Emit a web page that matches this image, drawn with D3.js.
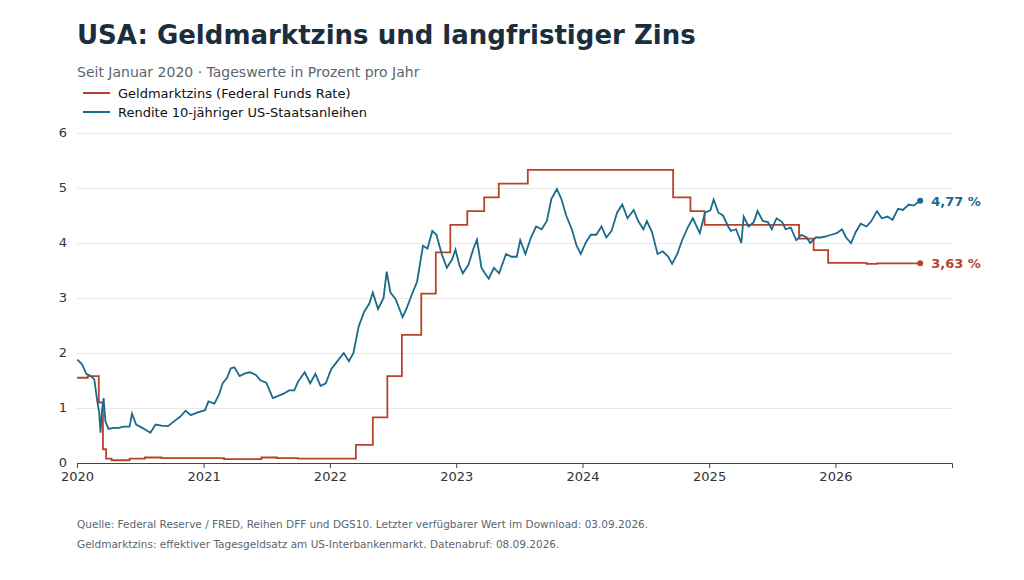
<!DOCTYPE html>
<html><head><meta charset="utf-8">
<script src="https://cdn.jsdelivr.net/npm/d3@7"></script>
<style>body{margin:0;background:#fff;font-family:"DejaVu Sans",sans-serif}</style>
</head><body><svg id="c" width="1024" height="580"></svg>
<script>
const seriesNames=["Geldmarktzins (Federal Funds Rate)","Rendite 10-jähriger US-Staatsanleihen"];
const yTicks=[0,1,2,3,4,5,6];
const xTickYears=[2020,2021,2022,2023,2024,2025,2026];
// Federal Funds Rate (step changes)
const ffr=[["2020-01-01",1.55],["2020-02-01",1.58],["2020-03-04",1.10],["2020-03-16",0.25],["2020-03-25",0.08],["2020-04-10",0.05],["2020-06-01",0.08],["2020-07-15",0.10],["2020-09-01",0.09],["2021-03-01",0.07],["2021-06-17",0.10],["2021-08-01",0.09],["2021-10-01",0.08],["2022-03-17",0.33],["2022-05-05",0.83],["2022-06-16",1.58],["2022-07-28",2.33],["2022-09-22",3.08],["2022-11-03",3.83],["2022-12-15",4.33],["2023-02-02",4.58],["2023-03-23",4.83],["2023-05-04",5.08],["2023-07-27",5.33],["2024-09-19",4.83],["2024-11-08",4.58],["2024-12-19",4.33],["2025-09-18",4.08],["2025-10-30",3.87],["2025-12-11",3.64],["2026-04-01",3.62],["2026-05-01",3.63],["2026-09-03",3.63]];
// 10-year Treasury yield
const dgs10=[["2020-01-02",1.88],["2020-01-15",1.80],["2020-01-28",1.62],["2020-02-10",1.58],["2020-02-20",1.52],["2020-02-28",1.15],["2020-03-05",0.92],["2020-03-09",0.55],["2020-03-13",0.95],["2020-03-18",1.18],["2020-03-23",0.76],["2020-04-01",0.62],["2020-04-15",0.64],["2020-05-01",0.64],["2020-05-15",0.66],["2020-06-01",0.66],["2020-06-08",0.90],["2020-06-20",0.70],["2020-07-10",0.63],["2020-07-31",0.55],["2020-08-15",0.70],["2020-09-01",0.68],["2020-09-20",0.67],["2020-10-10",0.77],["2020-10-25",0.84],["2020-11-10",0.95],["2020-11-25",0.87],["2020-12-15",0.92],["2021-01-05",0.96],["2021-01-15",1.12],["2021-02-01",1.08],["2021-02-15",1.25],["2021-02-25",1.45],["2021-03-10",1.55],["2021-03-20",1.72],["2021-03-31",1.74],["2021-04-15",1.58],["2021-05-01",1.63],["2021-05-15",1.65],["2021-06-01",1.60],["2021-06-15",1.50],["2021-07-01",1.46],["2021-07-20",1.18],["2021-08-05",1.22],["2021-08-20",1.26],["2021-09-05",1.32],["2021-09-20",1.32],["2021-10-01",1.48],["2021-10-20",1.65],["2021-11-05",1.45],["2021-11-20",1.62],["2021-12-05",1.40],["2021-12-20",1.45],["2022-01-05",1.71],["2022-01-20",1.83],["2022-02-10",2.00],["2022-02-25",1.85],["2022-03-10",2.00],["2022-03-25",2.48],["2022-04-10",2.75],["2022-04-25",2.90],["2022-05-05",3.10],["2022-05-20",2.80],["2022-06-05",3.00],["2022-06-14",3.48],["2022-06-25",3.10],["2022-07-10",2.98],["2022-07-30",2.65],["2022-08-10",2.80],["2022-08-25",3.05],["2022-09-10",3.30],["2022-09-27",3.95],["2022-10-10",3.90],["2022-10-24",4.22],["2022-11-05",4.15],["2022-11-20",3.80],["2022-12-05",3.55],["2022-12-20",3.70],["2022-12-30",3.88],["2023-01-10",3.60],["2023-01-20",3.45],["2023-02-05",3.60],["2023-02-20",3.90],["2023-03-02",4.06],["2023-03-15",3.55],["2023-03-25",3.45],["2023-04-05",3.35],["2023-04-20",3.55],["2023-05-05",3.45],["2023-05-25",3.80],["2023-06-10",3.75],["2023-06-25",3.75],["2023-07-05",4.05],["2023-07-20",3.80],["2023-08-05",4.10],["2023-08-20",4.30],["2023-09-05",4.25],["2023-09-20",4.40],["2023-10-03",4.80],["2023-10-19",4.98],["2023-11-01",4.80],["2023-11-15",4.50],["2023-12-01",4.25],["2023-12-15",3.95],["2023-12-27",3.80],["2024-01-10",4.00],["2024-01-25",4.15],["2024-02-10",4.15],["2024-02-25",4.30],["2024-03-10",4.10],["2024-03-25",4.22],["2024-04-10",4.55],["2024-04-25",4.70],["2024-05-10",4.45],["2024-05-28",4.60],["2024-06-10",4.40],["2024-06-25",4.25],["2024-07-05",4.40],["2024-07-20",4.20],["2024-08-05",3.80],["2024-08-20",3.85],["2024-09-05",3.75],["2024-09-16",3.62],["2024-10-01",3.80],["2024-10-15",4.05],["2024-10-31",4.28],["2024-11-15",4.45],["2024-12-05",4.18],["2024-12-20",4.55],["2025-01-05",4.60],["2025-01-14",4.79],["2025-01-28",4.55],["2025-02-10",4.50],["2025-02-25",4.30],["2025-03-05",4.22],["2025-03-20",4.25],["2025-04-04",4.00],["2025-04-11",4.48],["2025-04-25",4.30],["2025-05-10",4.38],["2025-05-21",4.58],["2025-06-05",4.40],["2025-06-20",4.38],["2025-07-01",4.25],["2025-07-15",4.45],["2025-07-31",4.38],["2025-08-10",4.25],["2025-08-25",4.28],["2025-09-10",4.05],["2025-09-25",4.15],["2025-10-10",4.10],["2025-10-20",4.00],["2025-11-05",4.10],["2025-11-20",4.10],["2025-12-05",4.12],["2025-12-20",4.15],["2026-01-05",4.18],["2026-01-20",4.25],["2026-02-01",4.10],["2026-02-15",4.00],["2026-03-01",4.20],["2026-03-15",4.35],["2026-04-01",4.30],["2026-04-15",4.40],["2026-05-01",4.58],["2026-05-15",4.45],["2026-06-01",4.48],["2026-06-15",4.42],["2026-07-01",4.62],["2026-07-15",4.60],["2026-08-01",4.70],["2026-08-15",4.68],["2026-09-03",4.77]];
const colors=["#b8432a","#1a6a8c"];
const P=d3.timeParse("%Y-%m-%d");
const svg=d3.select("#c");
const m={l:77,r:952,t:133,b:463};
const x=d3.scaleTime().domain([P("2020-01-01"),P("2026-12-04")]).range([m.l,m.r]);
const y=d3.scaleLinear().domain([0,6]).range([m.b,m.t]);
svg.append("text").attr("x",77).attr("y",44).attr("font-size",26).attr("font-weight","bold").attr("fill","#1b2e3e").text("USA: Geldmarktzins und langfristiger Zins");
svg.append("text").attr("x",77).attr("y",77).attr("font-size",14).attr("fill","#5a6670").text("Seit Januar 2020 · Tageswerte in Prozent pro Jahr");
seriesNames.forEach((n,i)=>{const yy=93+i*19;svg.append("line").attr("x1",83).attr("x2",110).attr("y1",yy).attr("y2",yy).attr("stroke",colors[i]).attr("stroke-width",2);
svg.append("text").attr("x",118).attr("y",yy+5).attr("font-size",13).attr("fill","#111").text(n);});
const ya=svg.append("g").attr("transform",`translate(${m.l},0)`).call(d3.axisLeft(y).tickValues(yTicks).tickSize(-(m.r-m.l)).tickFormat(d3.format("d")));
ya.select(".domain").remove();ya.selectAll("line").attr("stroke","#e8e8e8");
ya.selectAll("text").attr("x",-10).attr("dy","0.25em").attr("font-size",13).attr("fill","#333").attr("font-family","DejaVu Sans");
const xa=svg.append("g").attr("transform",`translate(0,${m.b})`).call(d3.axisBottom(x).tickValues(xTickYears.map(v=>new Date(v,0,1))).tickFormat(d3.format("")===null?null:d3.timeFormat("%Y")).tickSize(5));
xa.select(".domain").attr("stroke","#444");xa.selectAll("line").attr("stroke","#444");
xa.selectAll("text").attr("y",9).attr("font-size",13).attr("fill","#333").attr("font-family","DejaVu Sans");
svg.append("path").datum(ffr).attr("d",d3.line().curve(d3.curveStepAfter).x(d=>x(P(d[0]))).y(d=>y(d[1]))).attr("fill","none").attr("stroke",colors[0]).attr("stroke-width",1.8);
svg.append("path").datum(dgs10).attr("d",d3.line().x(d=>x(P(d[0]))).y(d=>y(d[1]))).attr("fill","none").attr("stroke",colors[1]).attr("stroke-width",1.8);
[[dgs10,1,"4,77 %"],[ffr,0,"3,63 %"]].forEach(([s,i,t])=>{const d=s[s.length-1];
svg.append("circle").attr("cx",x(P(d[0]))).attr("cy",y(d[1])).attr("r",3).attr("fill",colors[i]);
svg.append("text").attr("x",x(P(d[0]))+11).attr("y",y(d[1])+5).attr("font-size",13).attr("font-weight","bold").attr("fill",colors[i]).text(t);});
svg.append("text").attr("x",77).attr("y",528).attr("font-size",10.5).attr("fill","#5a6670").text("Quelle: Federal Reserve / FRED, Reihen DFF und DGS10. Letzter verfügbarer Wert im Download: 03.09.2026.");
svg.append("text").attr("x",77).attr("y",548).attr("font-size",10.5).attr("fill","#5a6670").text("Geldmarktzins: effektiver Tagesgeldsatz am US-Interbankenmarkt. Datenabruf: 08.09.2026.");
</script></body></html>
